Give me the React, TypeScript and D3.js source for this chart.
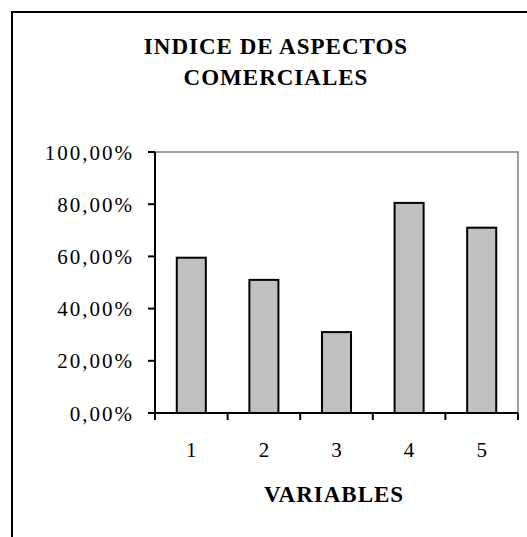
import React, { useEffect, useRef } from 'react';
import * as d3 from 'd3';

const variables = ['1', '2', '3', '4', '5'];
const values = [0.595, 0.51, 0.31, 0.805, 0.71];
const yTicks = [0, 0.2, 0.4, 0.6, 0.8, 1.0];
const titleLines = ['INDICE DE ASPECTOS', 'COMERCIALES'];
const xTitle = 'VARIABLES';

const fmt = (v: number) => (v * 100).toFixed(2).replace('.', ',') + '%';

export default function App() {
  const ref = useRef<SVGSVGElement>(null);

  useEffect(() => {
    const svg = d3.select(ref.current);
    svg.selectAll('*').remove();

    const width = 527, height = 537;
    const margin = { top: 152, right: 9, bottom: 124, left: 155 };
    const font = 'Liberation Serif, Times New Roman, Times, serif';

    // outer chart frame (runs past the right and bottom edges)
    svg.append('rect')
      .attr('x', 12).attr('y', 12)
      .attr('width', 700).attr('height', 700)
      .attr('fill', 'white')
      .attr('stroke', 'black')
      .attr('stroke-width', 2);

    const x = d3.scaleBand()
      .domain(variables)
      .range([margin.left, width - margin.right])
      .padding(0);

    const y = d3.scaleLinear()
      .domain([0, 1])
      .range([height - margin.bottom, margin.top]);

    const x0 = margin.left, x1 = width - margin.right;
    const y0 = y(0), y1 = y(1);

    // gray plot-area border top and right
    svg.append('path')
      .attr('d', `M${x0},${y1}H${x1}V${y0}`)
      .attr('fill', 'none')
      .attr('stroke', '#808080')
      .attr('stroke-width', 1.5);

    // bars
    const barW = x.bandwidth() * 0.4;
    svg.append('g')
      .selectAll('rect')
      .data(values)
      .join('rect')
      .attr('x', (d, i) => x(variables[i])! + (x.bandwidth() - barW) / 2)
      .attr('y', d => y(d))
      .attr('width', barW)
      .attr('height', d => y0 - y(d))
      .attr('fill', '#c0c0c0')
      .attr('stroke', 'black')
      .attr('stroke-width', 2);

    // y axis
    const yAxis = svg.append('g');
    yAxis.append('line')
      .attr('x1', x0).attr('x2', x0)
      .attr('y1', y1).attr('y2', y0 + 7)
      .attr('stroke', 'black').attr('stroke-width', 2);
    yAxis.selectAll('line.tick')
      .data(yTicks)
      .join('line')
      .attr('class', 'tick')
      .attr('x1', x0 - 7).attr('x2', x0)
      .attr('y1', d => y(d)).attr('y2', d => y(d))
      .attr('stroke', 'black').attr('stroke-width', 2);
    yAxis.selectAll('text')
      .data(yTicks)
      .join('text')
      .attr('x', 134)
      .attr('y', d => y(d) + 7.5)
      .attr('text-anchor', 'end')
      .style('font-family', font)
      .style('font-size', '21px')
      .style('letter-spacing', '2px')
      .text(d => fmt(d));

    // x axis
    const xAxis = svg.append('g');
    xAxis.append('line')
      .attr('x1', x0 - 7).attr('x2', x1)
      .attr('y1', y0).attr('y2', y0)
      .attr('stroke', 'black').attr('stroke-width', 2);
    const edges = variables.map(v => x(v)!).concat([x1]);
    xAxis.selectAll('line.tick')
      .data(edges)
      .join('line')
      .attr('class', 'tick')
      .attr('x1', d => d).attr('x2', d => d)
      .attr('y1', y0).attr('y2', y0 + 7)
      .attr('stroke', 'black').attr('stroke-width', 2);
    xAxis.selectAll('text')
      .data(variables)
      .join('text')
      .attr('x', d => x(d)! + x.bandwidth() / 2)
      .attr('y', 457)
      .attr('text-anchor', 'middle')
      .style('font-family', font)
      .style('font-size', '21px')
      .text(d => d);

    // titles
    svg.append('g')
      .selectAll('text')
      .data(titleLines)
      .join('text')
      .attr('x', 276)
      .attr('y', (d, i) => 54 + i * 31)
      .attr('text-anchor', 'middle')
      .style('font-family', font)
      .style('font-weight', 'bold')
      .style('font-size', '23px')
      .style('letter-spacing', '1px')
      .text(d => d);

    svg.append('text')
      .attr('x', 334)
      .attr('y', 502)
      .attr('text-anchor', 'middle')
      .style('font-family', font)
      .style('font-weight', 'bold')
      .style('font-size', '23px')
      .style('letter-spacing', '1px')
      .text(xTitle);
  }, []);

  return (
    <svg
      ref={ref}
      width={527}
      height={537}
      style={{ position: 'absolute', left: 0, top: 0, background: 'white' }}
    />
  );
}
